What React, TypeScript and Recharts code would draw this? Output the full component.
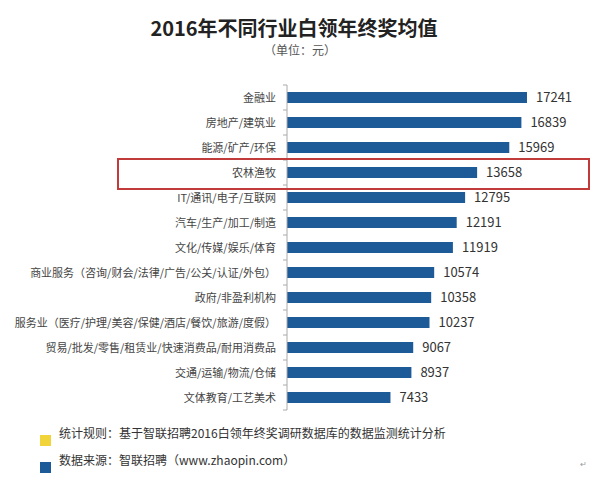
import { BarChart, Bar, XAxis, YAxis, LabelList } from 'recharts'

const categories = [
  '金融业',
  '房地产/建筑业',
  '能源/矿产/环保',
  '农林渔牧',
  'IT/通讯/电子/互联网',
  '汽车/生产/加工/制造',
  '文化/传媒/娱乐/体育',
  '商业服务（咨询/财会/法律/广告/公关/认证/外包）',
  '政府/非盈利机构',
  '服务业（医疗/护理/美容/保健/酒店/餐饮/旅游/度假）',
  '贸易/批发/零售/租赁业/快速消费品/耐用消费品',
  '交通/运输/物流/仓储',
  '文体教育/工艺美术',
]

const bonusValues = [17241, 16839, 15969, 13658, 12795, 12191, 11919, 10574, 10358, 10237, 9067, 8937, 7433]

const notes = [
  { color: '#f0d43a', text: '统计规则：基于智联招聘2016白领年终奖调研数据库的数据监测统计分析' },
  { color: '#1d5a98', text: '数据来源：智联招聘（www.zhaopin.com）' },
]

const FONT = '"Noto Sans CJK SC", "Noto Sans", sans-serif'
const BAR_COLOR = '#1d5a98'
const TOP = 85
const BOTTOM = 70
const BAND = (480 - TOP - BOTTOM) / categories.length

const data = categories.map((name, i) => ({ name, value: bonusValues[i] }))

// category label plus small boundary ticks on the axis
function CategoryTick(props: any) {
  const { x, y, payload, index } = props
  const axisX = x + 11
  return (
    <g>
      <line x1={axisX - 4} x2={axisX} y1={y - BAND / 2} y2={y - BAND / 2} stroke="#aaa" />
      {index === categories.length - 1 && (
        <line x1={axisX - 4} x2={axisX} y1={y + BAND / 2} y2={y + BAND / 2} stroke="#aaa" />
      )}
      <text x={x} y={y} dy={4} textAnchor="end" fontSize={11} fill="#444" fontFamily={FONT}>
        {payload.value}
      </text>
    </g>
  )
}

export default function App() {
  return (
    <div style={{ position: 'relative', width: 599, height: 480, background: '#fff', fontFamily: FONT }}>
      <style>{'body{margin:0}'}</style>

      {/* Title */}
      <div
        style={{
          position: 'absolute',
          left: 0,
          width: 588,
          top: 14,
          textAlign: 'center',
          fontSize: 20,
          fontWeight: 700,
          color: '#222',
          lineHeight: '28px',
        }}
      >
        2016年不同行业白领年终奖均值
      </div>
      <div
        style={{
          position: 'absolute',
          left: 0,
          width: 600,
          top: 41,
          textAlign: 'center',
          fontSize: 12,
          color: '#555',
          lineHeight: '18px',
        }}
      >
        （单位：元）
      </div>

      <BarChart
        width={599}
        height={480}
        data={data}
        layout="vertical"
        margin={{ top: TOP, right: 33.6, bottom: BOTTOM, left: 0 }}
        style={{ position: 'absolute', left: 0, top: 0 }}
      >
        <XAxis type="number" domain={[0, 20000]} hide />
        <YAxis
          type="category"
          dataKey="name"
          width={287}
          axisLine={{ stroke: '#aaa' }}
          tickLine={false}
          tickMargin={5}
          interval={0}
          tick={<CategoryTick />}
        />
        <Bar dataKey="value" fill={BAR_COLOR} barSize={11} isAnimationActive={false}>
          <LabelList dataKey="value" position="right" offset={9} fill="#333" fontSize={13} fontFamily={FONT} />
        </Bar>
      </BarChart>

      {/* highlight box around 农林渔牧 */}
      <div
        style={{
          position: 'absolute',
          left: 117,
          top: 158,
          width: 469,
          height: 28,
          border: '2px solid #c23b3b',
          pointerEvents: 'none',
        }}
      />

      {/* footnotes */}
      {notes.map((n, i) => (
        <div key={n.text} style={{ position: 'absolute', left: 40, top: 425 + i * 27, display: 'flex', alignItems: 'flex-start' }}>
          <div style={{ width: 11, height: 11, background: n.color, marginTop: 10, marginRight: 8 }} />
          <div style={{ fontSize: 12, color: '#333', lineHeight: '16px' }}>{n.text}</div>
        </div>
      ))}
      <div style={{ position: 'absolute', left: 580, top: 458, fontSize: 8, color: '#999' }}>↵</div>
    </div>
  )
}
